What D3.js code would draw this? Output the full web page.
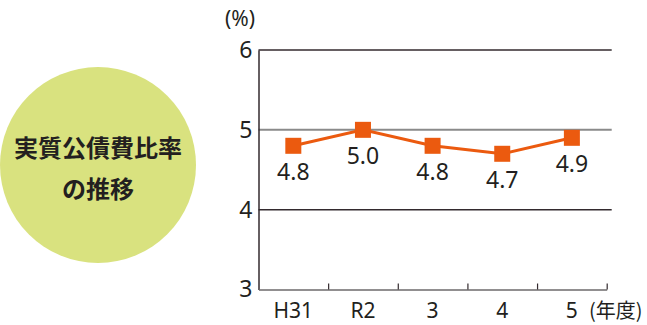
<!DOCTYPE html>
<html>
<head>
<meta charset="utf-8">
<script src="https://cdn.jsdelivr.net/npm/d3@7"></script>
<style>
  body { margin: 0; background: #fff; }
  text { font-family: "Noto Sans", "Noto Sans CJK JP", sans-serif; fill: #231f20; }
</style>
</head>
<body>
<script>
// data
var years = ["H31", "R2", "3", "4", "5"];
var ratio = [4.8, 5.0, 4.8, 4.7, 4.9];
var yTicks = [3, 4, 5, 6];

var svgWidth = 647;
var svgHeight = 325;

var svg = d3.select("body")
    .append("svg")
    .attr("width", svgWidth)
    .attr("height", svgHeight);

// title bubble
svg.append("circle")
    .attr("cx", 98)
    .attr("cy", 165)
    .attr("r", 98)
    .attr("fill", "#d9e27f");

svg.append("text")
    .attr("x", 98)
    .attr("y", 157)
    .attr("text-anchor", "middle")
    .style("font-family", "'Noto Sans CJK JP', sans-serif")
    .style("font-weight", "bold")
    .style("font-size", "24px")
    .text("実質公債費比率");

svg.append("text")
    .attr("x", 98)
    .attr("y", 198)
    .attr("text-anchor", "middle")
    .style("font-family", "'Noto Sans CJK JP', sans-serif")
    .style("font-weight", "bold")
    .style("font-size", "24px")
    .text("の推移");

// scales
var left = 258.5, right = 606.7, gridRight = 611.7;

var xScale = d3.scaleBand()
    .domain(years)
    .range([left, right])
    .padding(0);

var yScale = d3.scaleLinear()
    .domain([3, 6])
    .range([289.5, 50]);

// gridlines
svg.selectAll(".grid")
    .data(yTicks.filter(d => d > 3))
    .enter()
    .append("line")
    .attr("x1", left)
    .attr("x2", gridRight)
    .attr("y1", d => yScale(d))
    .attr("y2", d => yScale(d))
    .attr("stroke", d => d === 5 ? "#8a8a8a" : "#332a2e")
    .attr("stroke-width", d => d === 5 ? 2 : 1.5);

// y axis
var yAxis = d3.axisLeft(yScale)
    .tickValues(yTicks)
    .tickSize(0)
    .tickPadding(6)
    .tickFormat(d3.format("d"));

var yG = svg.append("g")
    .attr("transform", `translate(${left}, 0)`)
    .call(yAxis);
yG.select(".domain").attr("stroke", "#332a2e").attr("stroke-width", 1.5);
yG.selectAll("text")
    .style("font-size", "23px")
    .attr("fill", "#231f20");

// x axis: ticks at band boundaries, pointing up
var boundaryScale = d3.scaleLinear()
    .domain([0, years.length])
    .range([left, right]);

var xG = svg.append("g")
    .attr("transform", `translate(0, ${yScale(3)})`)
    .call(d3.axisBottom(boundaryScale)
        .tickValues(d3.range(1, years.length + 1))
        .tickSize(-6)
        .tickSizeOuter(0)
        .tickFormat(""));
xG.select(".domain").attr("stroke", "#6d6a6b").attr("stroke-width", 1.5);
xG.selectAll(".tick line").attr("stroke", "#332a2e").attr("stroke-width", 1.2);

svg.selectAll(".xlabel")
    .data(years)
    .enter()
    .append("text")
    .attr("x", d => xScale(d) + xScale.bandwidth() / 2)
    .attr("y", 318)
    .attr("text-anchor", "middle")
    .style("font-size", "21px")
    .text(d => d);

svg.append("text")
    .attr("x", 589)
    .attr("y", 318)
    .style("font-family", "'Noto Sans CJK JP', sans-serif")
    .style("font-size", "20px")
    .text("(年度)");

svg.append("text")
    .attr("x", 225)
    .attr("y", 26)
    .style("font-size", "21px")
    .text("(%)");

// line
var points = years.map((y, i) => ({ year: y, value: ratio[i] }));

var line = d3.line()
    .x(d => xScale(d.year) + xScale.bandwidth() / 2)
    .y(d => yScale(d.value));

svg.append("path")
    .attr("d", line(points))
    .attr("fill", "none")
    .attr("stroke", "#eb5a0f")
    .attr("stroke-width", 3);

svg.selectAll(".marker")
    .data(points)
    .enter()
    .append("rect")
    .attr("x", d => xScale(d.year) + xScale.bandwidth() / 2 - 8)
    .attr("y", d => yScale(d.value) - 8)
    .attr("width", 16)
    .attr("height", 16)
    .attr("fill", "#eb5a0f");

svg.selectAll(".vlabel")
    .data(points)
    .enter()
    .append("text")
    .attr("x", d => xScale(d.year) + xScale.bandwidth() / 2)
    .attr("y", d => yScale(d.value) + 34)
    .attr("text-anchor", "middle")
    .style("font-size", "23px")
    .text(d => d3.format(".1f")(d.value));
</script>
</body>
</html>
